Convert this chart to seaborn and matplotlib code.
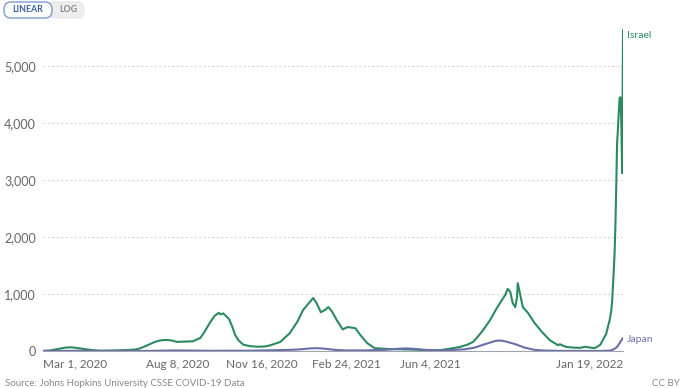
import matplotlib
matplotlib.use("Agg")
import matplotlib.pyplot as plt
from matplotlib.patches import FancyBboxPatch
from matplotlib.transforms import IdentityTransform
import pandas as pd
import seaborn as sns

# ---------------- data ----------------
israel_dates = [
    "2020-03-01", "2020-03-09", "2020-03-19", "2020-03-28", "2020-04-04", "2020-04-14",
    "2020-04-26", "2020-05-08", "2020-05-26", "2020-06-06", "2020-06-18", "2020-06-24",
    "2020-06-30", "2020-07-06", "2020-07-12", "2020-07-18", "2020-07-25", "2020-08-01",
    "2020-08-07", "2020-08-17", "2020-08-26", "2020-09-04", "2020-09-09", "2020-09-15",
    "2020-09-21", "2020-09-26", "2020-09-28", "2020-10-01", "2020-10-04", "2020-10-08",
    "2020-10-12", "2020-10-15", "2020-10-19", "2020-10-25", "2020-11-02", "2020-11-11",
    "2020-11-20", "2020-11-26", "2020-12-02", "2020-12-08", "2020-12-13", "2020-12-19",
    "2020-12-28", "2021-01-04", "2021-01-12", "2021-01-16", "2021-01-20", "2021-01-25",
    "2021-01-30", "2021-02-03", "2021-02-07", "2021-02-13", "2021-02-20", "2021-02-26",
    "2021-03-07", "2021-03-13", "2021-03-21", "2021-03-30", "2021-04-14", "2021-04-29",
    "2021-05-15", "2021-05-29", "2021-06-16", "2021-06-27", "2021-07-09", "2021-07-18",
    "2021-07-25", "2021-07-31", "2021-08-06", "2021-08-14", "2021-08-22", "2021-08-28",
    "2021-09-01", "2021-09-04", "2021-09-07", "2021-09-10", "2021-09-13", "2021-09-15",
    "2021-09-16", "2021-09-19", "2021-09-22", "2021-09-28", "2021-10-06", "2021-10-15",
    "2021-10-24", "2021-11-03", "2021-11-05", "2021-11-09", "2021-11-13", "2021-11-21",
    "2021-11-29", "2021-12-05", "2021-12-11", "2021-12-16", "2021-12-19", "2021-12-23",
    "2021-12-26", "2021-12-30", "2022-01-01", "2022-01-03", "2022-01-05", "2022-01-06",
    "2022-01-07", "2022-01-08", "2022-01-09", "2022-01-10", "2022-01-11", "2022-01-12",
    "2022-01-13", "2022-01-14", "2022-01-15", "2022-01-16", "2022-01-17", "2022-01-18",
    "2022-01-19",
]
israel_values = [
    2, 10, 35, 60, 65, 45,
    20, 5, 10, 15, 25, 45,
    80, 120, 160, 185, 195, 185,
    160, 165, 170, 230, 340, 490,
    620, 670, 640, 660, 620, 560,
    420, 290, 190, 110, 85, 75,
    80, 100, 130, 160, 230, 310,
    510, 720, 860, 930, 840, 680,
    720, 770, 700, 540, 380, 420,
    400, 280, 140, 50, 35, 30,
    25, 15, 15, 40, 70, 110,
    160, 260, 370, 540, 750, 890,
    980, 1090, 1040, 840, 770, 930,
    1190, 980, 770, 670, 490, 330,
    190, 100, 120, 90, 70, 60,
    55, 75, 60, 50, 70, 110,
    190, 300, 420, 530, 700, 850,
    1120, 1400, 1720, 2200, 2900, 3650,
    3900, 4200, 4440, 4450, 4000, 3120,
    5630,
]

japan_dates = [
    "2020-03-01", "2020-04-15", "2020-05-15", "2020-07-01", "2020-08-05", "2020-09-15",
    "2020-11-01", "2020-12-19", "2021-01-01", "2021-01-12", "2021-01-21", "2021-01-30",
    "2021-02-11", "2021-02-23", "2021-03-18", "2021-04-11", "2021-04-23", "2021-05-06",
    "2021-05-18", "2021-05-29", "2021-06-11", "2021-06-27", "2021-07-15", "2021-07-27",
    "2021-08-08", "2021-08-20", "2021-08-26", "2021-09-01", "2021-09-13", "2021-09-24",
    "2021-10-06", "2021-10-18", "2021-11-05", "2021-12-23", "2022-01-04", "2022-01-08",
    "2022-01-12", "2022-01-15", "2022-01-19",
]
japan_values = [
    0, 4, 1, 1, 10, 4,
    5, 20, 30, 45, 50, 40,
    20, 10, 10, 20, 35, 45,
    35, 20, 12, 15, 30, 60,
    120, 175, 185, 170, 120, 60,
    20, 8, 2, 1, 8, 30,
    70, 140, 230,
]

countries = ["Israel", "Japan"]
colors = {"Israel": "#2c8a60", "Japan": "#6b6fa8"}

tick_dates = ["2020-03-01", "2020-08-08", "2020-11-16", "2021-02-24", "2021-06-04", "2022-01-19"]
tick_labels = ["Mar 1, 2020", "Aug 8, 2020", "Nov 16, 2020", "Feb 24, 2021", "Jun 4, 2021", "Jan 19, 2022"]
y_ticks = [0, 1000, 2000, 3000, 4000, 5000]
y_labels = ["0", "1,000", "2,000", "3,000", "4,000", "5,000"]

df = pd.concat([
    pd.DataFrame({"date": pd.to_datetime(israel_dates), "value": israel_values, "country": "Israel"}),
    pd.DataFrame({"date": pd.to_datetime(japan_dates), "value": japan_values, "country": "Japan"}),
], ignore_index=True)

# ---------------- style ----------------
sns.set_theme(style="white")
plt.rcParams["font.family"] = ["Lato", "DejaVu Sans"]

W, H = 690, 388
fig = plt.figure(figsize=(W / 100, H / 100), dpi=100)
left, right, bottom, top = 43, 623, 351, 26
ax = fig.add_axes([left / W, (H - bottom) / H, (right - left) / W, (bottom - top) / H])

sns.lineplot(data=df, x="date", y="value", hue="country", palette=colors,
             hue_order=countries, legend=False, ax=ax, linewidth=1.5,
             estimator=None, sort=True)

ax.set_xlim(pd.Timestamp(tick_dates[0]), pd.Timestamp(tick_dates[-1]))
ax.set_ylim(0, 5700)
ax.set_xlabel("")
ax.set_ylabel("")

for s in ["top", "right", "left"]:
    ax.spines[s].set_visible(False)
ax.spines["bottom"].set_color("#a0a4b0")
ax.spines["bottom"].set_linewidth(0.8)

ax.set_yticks(y_ticks)
ax.set_yticklabels(y_labels)
ax.tick_params(axis="y", length=0, pad=5, labelsize=9, labelcolor="#666666")
ax.yaxis.grid(True, color="#d8d8d8", linestyle=(0, (2, 2)), linewidth=0.8)
ax.set_axisbelow(True)

ax.set_xticks(pd.to_datetime(tick_dates))
ax.set_xticklabels(tick_labels)
ax.tick_params(axis="x", length=4, width=0.8, color="#a0a4b0", pad=1.5,
               labelsize=8.5, labelcolor="#666666", direction="out")
xl = ax.get_xticklabels()
xl[0].set_horizontalalignment("left")
xl[-1].set_horizontalalignment("right")
ax.xaxis.grid(False)

# end labels
ax.annotate("Israel", xy=(pd.Timestamp(israel_dates[-1]), israel_values[-1]),
            xytext=(3, -4), textcoords="offset points", fontsize=7.5,
            color=colors["Israel"], va="center", ha="left", annotation_clip=False)
ax.annotate("Japan", xy=(pd.Timestamp(japan_dates[-1]), japan_values[-1]),
            xytext=(3, -1), textcoords="offset points", fontsize=7.5,
            color=colors["Japan"], va="center", ha="left", annotation_clip=False)

# buttons (pixel coordinates, origin bottom-left)
ident = IdentityTransform()
b2 = FancyBboxPatch((48, H - 18), 36, 16, boxstyle="round,pad=0,rounding_size=7",
                    transform=ident, facecolor="#eeeeee", edgecolor="#e6e6e6",
                    linewidth=0.8, zorder=4)
b1 = FancyBboxPatch((4, H - 18), 48, 16, boxstyle="round,pad=0,rounding_size=7",
                    transform=ident, facecolor="white", edgecolor="#7d9bd0",
                    linewidth=1.0, zorder=5)
fig.add_artist(b2)
fig.add_artist(b1)
fig.text(28 / W, 1 - 10 / H, "LINEAR", fontsize=6.3, color="#3a5f9f", ha="center", va="center",
         fontweight="bold", zorder=6)
fig.text(68 / W, 1 - 10 / H, "LOG", fontsize=6.3, color="#888888", ha="center", va="center",
         fontweight="bold", zorder=6)

# footer
fig.text(5 / W, 1 - 384 / H, "Source: Johns Hopkins University CSSE COVID-19 Data", fontsize=7,
         color="#888888", ha="left", va="center")
fig.text(680 / W, 1 - 384 / H, "CC BY", fontsize=7, color="#888888", ha="right", va="center")

fig.savefig("out.png", dpi=100)
